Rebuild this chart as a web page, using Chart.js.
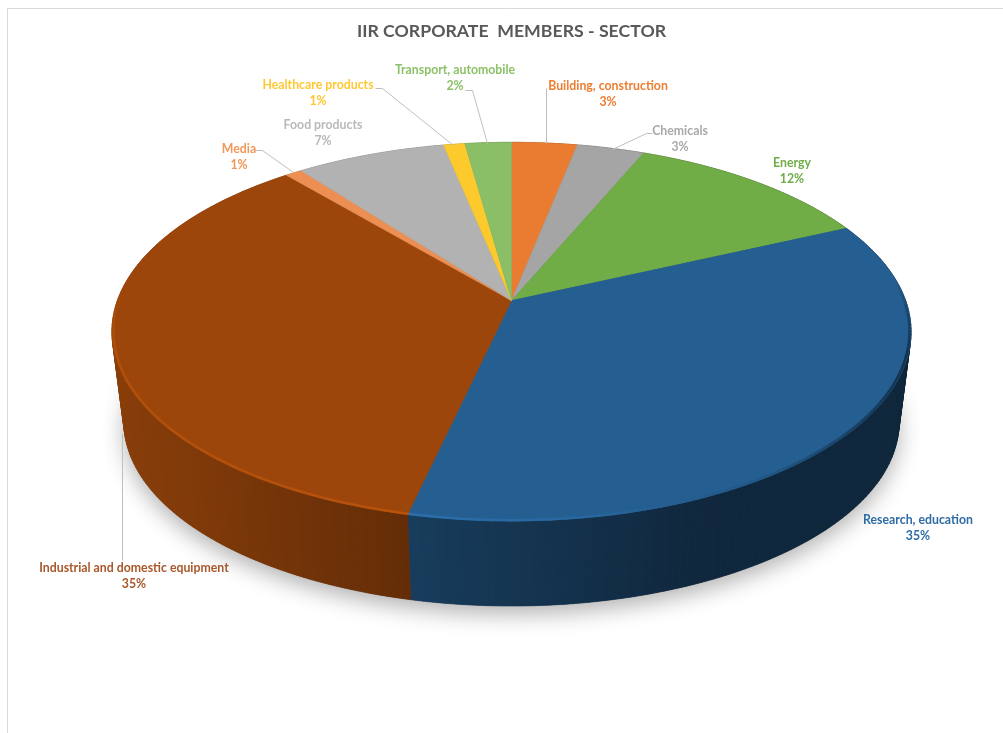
<!DOCTYPE html>
<html>
<head>
<meta charset="utf-8">
<style>
  html, body { margin: 0; padding: 0; background: #fff; }
  canvas { display: block; }
</style>
<script src="https://cdn.jsdelivr.net/npm/chart.js@4"></script>
</head>
<body>
<canvas id="myChart" width="1003" height="733"></canvas>
<script>
const sectors = ['Building, construction', 'Chemicals', 'Energy', 'Research, education',
  'Industrial and domestic equipment', 'Media', 'Food products', 'Healthcare products', 'Transport, automobile'];
const shares = [3.1, 3.2, 11.8, 35.4, 35.3, 0.8, 7.1, 1.0, 2.2];
const shareLabels = ['3%', '3%', '12%', '35%', '35%', '1%', '7%', '1%', '2%'];
const sliceColors = ['#ea7c31', '#a5a5a5', '#70ad47', '#255e91', '#9c460b', '#ed8f52', '#b2b2b2', '#fdca2d', '#8abf67'];
const textColors = ['#ed7d31', '#a9a9a9', '#70ad47', '#2f6ca5', '#a9582a', '#f1975a', '#b9b9b9', '#ffc832', '#8cc168'];

// label centre and baseline of the first line
const labelPos = [[608, 90], [680, 135], [792, 167], [918, 524], [134, 572], [239, 153], [323, 129], [318, 89], [455, 74]];
const leaders = {
  0: [[546, 88], [546, 143]],
  1: [[652, 133], [646, 133], [612, 149]],
  4: [[122, 560], [122, 433]],
  5: [[255, 150], [262, 150], [293, 172]],
  7: [[375, 88], [382, 88], [453, 145]],
  8: [[465, 90], [472, 90], [487, 143]]
};

// tilt of the disc
const tilt = { faceX: 1.5375, faceY: 0.7188, k: 0.164, base: 0.97, depth: 91.6 };
const step = Math.PI / 180;

function project(arc, a, level, inset) {
  const x = Math.cos(a), y = -Math.sin(a);
  const w = 1 + tilt.k * y;
  const s = (level ? tilt.base : 1) * (inset || 1);
  return [
    arc.x + s * x / w * arc.outerRadius * tilt.faceX,
    arc.y + (level ? tilt.depth : 0) - s * y / w * arc.outerRadius * tilt.faceY
  ];
}

function lerpStops(stops, x) {
  if (x <= stops[0][0]) return stops[0][1];
  for (let i = 1; i < stops.length; i++) {
    if (x <= stops[i][0]) {
      const t = (x - stops[i - 1][0]) / (stops[i][0] - stops[i - 1][0]);
      return stops[i - 1][1] + t * (stops[i][1] - stops[i - 1][1]);
    }
  }
  return stops[stops.length - 1][1];
}

function shade(hex, f) {
  const n = parseInt(hex.slice(1), 16);
  const c = [n >> 16, (n >> 8) & 255, n & 255].map(v => Math.min(255, Math.round(v * f)));
  return 'rgb(' + c.join(',') + ')';
}

const wallShade = [[120, 0.88], [410, 0.64], [700, 0.42], [905, 0.41]];
const rimShade = [[113, 1.13], [410, 1.18], [600, 1.08], [780, 0.9], [905, 0.55]];

const disc3d = {
  id: 'disc3d',
  beforeDraw(chart) {
    const c = chart.ctx;
    c.save();
    c.strokeStyle = '#d9d9d9';
    c.lineWidth = 1;
    c.beginPath();
    c.moveTo(7.5, 733);
    c.lineTo(7.5, 8.5);
    c.lineTo(1003, 8.5);
    c.stroke();
    c.restore();
  },
  beforeDatasetDraw(chart, args) {
    const c = chart.ctx;
    const arcs = args.meta.data;
    const first = arcs[0];

    // soft shadow under the disc
    c.save();
    c.shadowColor = 'rgba(0,0,0,0.3)';
    c.shadowBlur = 22;
    c.shadowOffsetY = 8;
    c.fillStyle = '#555';
    c.beginPath();
    for (let a = 0; a < Math.PI * 2; a += step) {
      const p = project(first, a, 1);
      c.lineTo(p[0], p[1]);
    }
    c.closePath();
    c.fill();
    c.restore();

    // outer wall
    arcs.forEach((arc, i) => {
      for (let a = arc.startAngle; a < arc.endAngle; a += step) {
        const b = Math.min(a + step, arc.endAngle);
        const t0 = project(arc, a, 0), t1 = project(arc, b, 0);
        const b0 = project(arc, a, 1), b1 = project(arc, b, 1);
        const col = shade(sliceColors[i], lerpStops(wallShade, (t0[0] + t1[0]) / 2));
        c.fillStyle = col;
        c.strokeStyle = col;
        c.lineWidth = 0.6;
        c.beginPath();
        c.moveTo(t0[0], t0[1]);
        c.lineTo(t1[0], t1[1]);
        c.lineTo(b1[0], b1[1]);
        c.lineTo(b0[0], b0[1]);
        c.closePath();
        c.fill();
        c.stroke();
      }
    });

    // top face
    arcs.forEach((arc, i) => {
      c.fillStyle = sliceColors[i];
      c.strokeStyle = sliceColors[i];
      c.lineWidth = 0.5;
      c.beginPath();
      c.moveTo(arc.x, arc.y);
      for (let a = arc.startAngle; a < arc.endAngle; a += step) {
        const p = project(arc, a, 0);
        c.lineTo(p[0], p[1]);
      }
      const e = project(arc, arc.endAngle, 0);
      c.lineTo(e[0], e[1]);
      c.closePath();
      c.fill();
      c.stroke();
    });

    // bevel along the front rim, fading out towards the back
    c.save();
    c.lineWidth = 2.5;
    c.lineCap = 'round';
    arcs.forEach((arc, i) => {
      for (let a = arc.startAngle; a < arc.endAngle; a += step) {
        const b = Math.min(a + step, arc.endAngle);
        const front = Math.sin((a + b) / 2);
        if (front < -0.1) continue;
        const p0 = project(arc, a, 0, 0.996), p1 = project(arc, b, 0, 0.996);
        c.globalAlpha = Math.min(1, (front + 0.1) / 0.4);
        c.strokeStyle = shade(sliceColors[i], lerpStops(rimShade, p0[0]));
        c.beginPath();
        c.moveTo(p0[0], p0[1]);
        c.lineTo(p1[0], p1[1]);
        c.stroke();
      }
    });
    c.restore();
    return false;
  },
  afterDraw(chart) {
    const c = chart.ctx;
    c.save();
    c.strokeStyle = '#bfbfbf';
    c.lineWidth = 1;
    Object.values(leaders).forEach(line => {
      c.beginPath();
      line.forEach(p => c.lineTo(p[0] + 0.5, p[1] + 0.5));
      c.stroke();
    });
    c.font = 'bold 12.3px Lato';
    c.textAlign = 'center';
    c.textBaseline = 'alphabetic';
    sectors.forEach((name, i) => {
      c.fillStyle = textColors[i];
      c.fillText(name, labelPos[i][0], labelPos[i][1]);
      c.fillText(shareLabels[i], labelPos[i][0], labelPos[i][1] + 16);
    });
    c.restore();
  }
};

new Chart(document.getElementById('myChart'), {
  type: 'pie',
  data: {
    labels: sectors,
    datasets: [{
      data: shares,
      backgroundColor: sliceColors,
      borderWidth: 0
    }]
  },
  options: {
    responsive: false,
    animation: false,
    layout: { padding: { left: 20, right: 0, top: 0, bottom: 176 } },
    plugins: {
      legend: { display: false },
      tooltip: { enabled: false },
      title: {
        display: true,
        text: 'IIR CORPORATE  MEMBERS - SECTOR',
        color: '#595959',
        font: { family: 'Lato', size: 17.7, weight: 'bold' },
        padding: { top: 21, bottom: 2 }
      }
    }
  },
  plugins: [disc3d]
});
</script>
</body>
</html>
